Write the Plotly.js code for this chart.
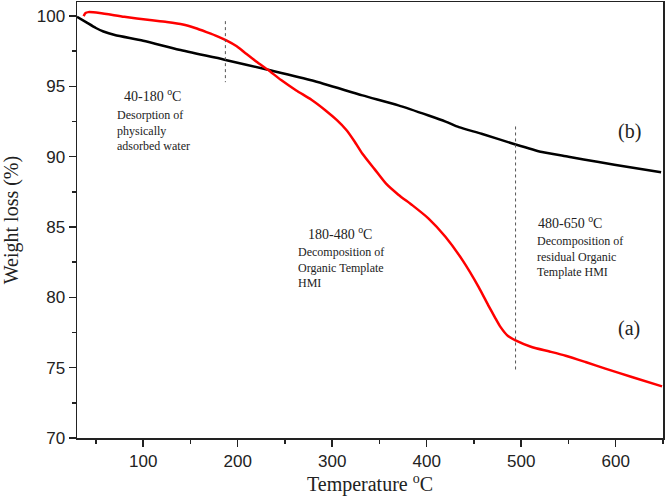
<!DOCTYPE html>
<html>
<head>
<meta charset="utf-8">
<script src="https://cdn.plot.ly/plotly-3.0.1.min.js"></script>
<style>html,body{margin:0;padding:0;background:#fff;}#chart{width:666px;height:503px;}</style>
</head>
<body>
<div id="chart"></div>
<script>
// Curve (a) - red
const tempA = [37, 39, 42, 54, 80, 107, 125, 142, 155, 167, 178, 188, 199, 209, 220, 232, 246, 262, 278, 293, 305, 315, 324, 332, 345, 357, 370, 385, 402, 420, 438, 455, 465, 472, 478, 486, 494, 511, 530, 547, 568, 589, 617, 649];
const weightA = [100.0, 100.22, 100.28, 100.22, 99.95, 99.72, 99.58, 99.4, 99.15, 98.86, 98.58, 98.27, 97.85, 97.32, 96.75, 96.18, 95.45, 94.71, 94.05, 93.29, 92.6, 91.9, 91.05, 90.21, 89.1, 88.08, 87.3, 86.54, 85.6, 84.29, 82.63, 80.73, 79.45, 78.6, 77.9, 77.25, 76.94, 76.47, 76.15, 75.85, 75.4, 74.93, 74.34, 73.67];

// Curve (b) - black
const tempB = [30, 40, 50, 58, 70, 100, 138, 186, 232, 279, 332, 370, 402, 420, 434, 458, 494, 522, 550, 582, 615, 648];
const weightB = [99.95, 99.55, 99.15, 98.9, 98.65, 98.25, 97.6, 96.9, 96.18, 95.42, 94.36, 93.65, 92.93, 92.5, 92.1, 91.63, 90.87, 90.33, 90.0, 89.62, 89.25, 88.9];

// Dashed region separators
const sep1X = [187, 187];
const sep1Y = [99.64, 95.3];
const sep2X = [494, 494];
const sep2Y = [92.15, 74.69];

const serif = '"Liberation Serif", "Times New Roman", serif';
const sans = '"Liberation Sans", Arial, sans-serif';

const traces = [
  {x: tempB, y: weightB, mode: 'lines', line: {color: '#000000', width: 2.5, shape: 'spline', smoothing: 0.6}, name: '(b)', showlegend: false, hoverinfo: 'x+y'},
  {x: tempA, y: weightA, mode: 'lines', line: {color: '#ff0000', width: 2.5, shape: 'spline', smoothing: 0.6}, name: '(a)', showlegend: false, hoverinfo: 'x+y'},
  {x: sep1X, y: sep1Y, mode: 'lines', line: {color: '#555555', width: 1, dash: 'dot'}, showlegend: false, hoverinfo: 'skip'},
  {x: sep2X, y: sep2Y, mode: 'lines', line: {color: '#555555', width: 1, dash: 'dot'}, showlegend: false, hoverinfo: 'skip'}
];

function note(x, y, text, size) {
  return {x: x, y: y, xref: 'x', yref: 'y', text: text, showarrow: false, xanchor: 'left', yanchor: 'middle', align: 'left',
          font: {family: serif, size: size, color: '#222222'}};
}

const layout = {
  width: 666, height: 503,
  margin: {l: 77, r: 3, t: 2, b: 65},
  paper_bgcolor: '#ffffff', plot_bgcolor: '#ffffff',
  showlegend: false,
  xaxis: {
    range: [30, 650], tick0: 0, dtick: 100,
    ticks: 'outside', ticklen: 7, tickwidth: 1.5, tickcolor: '#222',
    minor: {dtick: 50, ticks: 'outside', ticklen: 4, tickwidth: 1.5, tickcolor: '#222', showgrid: false},
    showline: true, linecolor: '#222', linewidth: 1.5, mirror: true,
    showgrid: false, zeroline: false,
    tickfont: {family: sans, size: 17, color: '#222'},
    title: {text: 'Temperature <sup>o</sup>C', font: {family: serif, size: 20, color: '#222'}, standoff: 5}
  },
  yaxis: {
    range: [70, 101], tick0: 70, dtick: 5,
    ticks: 'outside', ticklen: 7, tickwidth: 1.5, tickcolor: '#222',
    minor: {dtick: 2.5, ticks: 'outside', ticklen: 4, tickwidth: 1.5, tickcolor: '#222', showgrid: false},
    showline: true, linecolor: '#222', linewidth: 1.5, mirror: true,
    showgrid: false, zeroline: false,
    tickfont: {family: sans, size: 17, color: '#222'},
    title: {text: 'Weight loss (%)', font: {family: serif, size: 20, color: '#222'}, standoff: 12}
  },
  annotations: [
    note(77.3, 94.36, '40-180 <sup>o</sup>C', 14),
    note(69.8, 91.87, 'Desorption of<br>physically<br>adsorbed water', 12),
    note(272.3, 84.61, '180-480 <sup>o</sup>C', 14),
    note(261.7, 82.15, 'Decomposition of<br>Organic Template<br>HMI', 12),
    note(515.2, 85.35, '480-650 <sup>o</sup>C', 14),
    note(514.5, 82.91, 'Decomposition of<br>residual Organic<br>Template HMI', 12),
    note(600, 91.8, '(b)', 20),
    note(600, 77.8, '(a)', 20)
  ]
};

Plotly.newPlot('chart', traces, layout, {displayModeBar: false, staticPlot: true});
</script>
</body>
</html>
